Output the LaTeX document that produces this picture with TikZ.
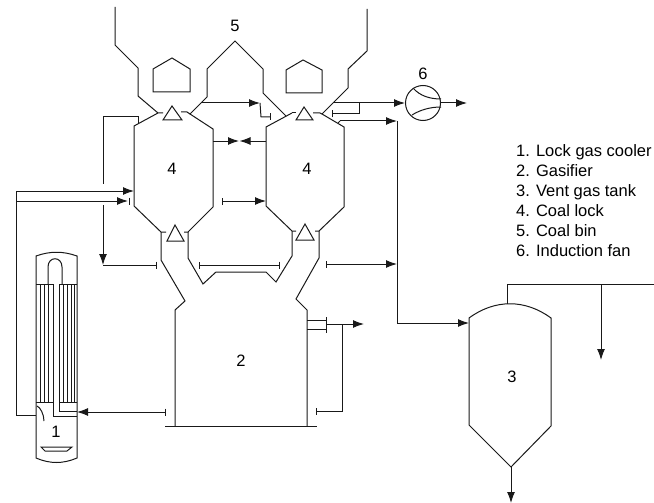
\documentclass[tikz,border=0pt]{standalone}
\usepackage{fontspec}
\setmainfont{Liberation Sans}
\usetikzlibrary{arrows.meta}
\tikzset{
  pipe/.style={line width=1pt,line join=miter,draw=black!90},
  flow/.style={pipe,-{Latex[length=11pt,width=8pt]}},
  barflow/.style={pipe,{Bar[width=7pt,length=1pt]}-{Latex[length=11pt,width=8pt]}},
  barend/.style={pipe,-{Bar[width=7pt,length=1pt]}},
  barboth/.style={pipe,{Bar[width=7pt,length=1pt]}-{Bar[width=7pt,length=1pt]}},
  thin tube/.style={line width=0.8pt,draw=black!90},
  lbl/.style={inner sep=0pt,font=\fontsize{16.5}{20}\selectfont},
  legend/.style={inner sep=0pt,anchor=base west,font=\fontsize{16.5}{20}\selectfont}
}
\begin{document}
\begin{tikzpicture}[x=1pt,y=-1pt]
\useasboundingbox (0,0) rectangle (654,503);
% coal bins
\draw[pipe] (115,7)--(115,45)--(138,68)--(138,96)--(158,113)--(163,113);
\draw[pipe] (181,112)--(187,112)--(190,114)--(207,97)--(207,69)--(235,41)--(263,69)--(263,93)--(286,116);
\draw[pipe] (292,113)--(296,113);
\draw[pipe] (313,113)--(320,113)--(322,114)--(348,88)--(348,69)--(367,51)--(367,9);
\draw[pipe] (153,69)--(172,58)--(190,69)--(190,92)--(153,92)--cycle;
\draw[pipe] (286,70)--(303,60)--(322,70)--(322,93)--(286,93)--cycle;
% upper valves
\draw[pipe] (172,106)--(163,120)--(182,120)--cycle;
\draw[pipe] (304,107)--(296,120)--(313,120)--cycle;
% coal locks
\draw[pipe] (158,113)--(134,126)--(134,206)--(161,232)--(166,232);
\draw[pipe] (190,114)--(213,129)--(213,207)--(188,232)--(184,232);
\draw[pipe] (292,113)--(266,127)--(266,206)--(292,231)--(296,231);
\draw[pipe] (322,114)--(344,127)--(344,207)--(319,231)--(315,231);
\draw[pipe] (175,225)--(167,241)--(184,241)--cycle;
\draw[pipe] (305,224)--(296,240)--(314,240)--cycle;
% gasifier
\draw[pipe] (161,232)--(161,260)--(185,301)--(175,310)--(175,426);
\draw[pipe] (319,231)--(319,258)--(296,299)--(307,310)--(307,426);
\draw[pipe] (188,232)--(188,258)--(203,284)--(216,272)--(266,272)--(276,282)--(292,256)--(292,231);
\draw[pipe] (165,426)--(317,426);
% cooler
\draw[pipe] (36,402)--(36,256) .. controls (50,251) and (63,251) .. (77,256)--(77,402);
\draw[pipe] (36,402)--(36,458) .. controls (50,464) and (63,464) .. (77,458)--(77,402);
\draw[pipe] (48,284)--(48,267) .. controls (48,256) and (62,256) .. (62,267)--(62,284);
\draw[pipe] (36,284)--(53,284)--(53,402)--(36,402);
\draw[pipe] (77,284)--(59,284)--(59,402)--(77,402);
\foreach \tx in {40,44,48,63,67,71,74}{\draw[thin tube] (\tx,284)--(\tx,402);}
\draw[pipe] (53,402)--(53,416)--(77,416);
\draw[pipe] (59,402)--(59,411)--(77,411);
\draw[pipe] (37,406) .. controls (40,407) and (44,414) .. (44,421);
\draw[pipe] (41,447)--(72,447)--(67,451)--(45,451)--cycle;
% vent tank
\draw[pipe] (469,318) .. controls (495,299) and (525,299) .. (551,318)--(551,426)--(511,467)--(469,425)--cycle;
% fan
\node[draw=black!90,line width=1pt,circle,minimum size=35pt,inner sep=0pt] (fan) at (423,103) {};
\draw[pipe] (413,88) .. controls (420,96) and (430,99) .. (441,99);
\draw[pipe] (412,115) .. controls (420,110) and (430,107) .. (441,107);
% connectors
\coordinate (b1) at (201,103);
\draw[flow] (b1)--(260,103);
\draw[barend] (260,103)--(261,117)--(271,117);
\draw[flow] (213,141)--(239,141);
\draw[flow] (266,141)--(239.5,141);
\draw[pipe] (138,123)--(138,117)--(103,117)--(103,184);
\draw[flow] (103,205)--(103,265);
\draw[barend] (103,265)--(157,265);
\draw[flow] (16,191)--(134,191);
\draw[flow] (16,201)--(128,201);
\draw[pipe] (129,197.5)--(129,204.5);
\draw[pipe] (16,191)--(16,415)--(36,415);
\draw[barflow] (166,412)--(77,412);
\draw[barflow] (222,201)--(266,201);
\draw[barboth] (199,265)--(280,265);
\draw[barflow] (326,264)--(397,264);
\draw[pipe] (338,123)--(340,121);
\draw[flow] (340,121)--(397,121);
\draw[pipe] (397,121)--(397,323);
\draw[flow] (397,323)--(469,323);
\draw[flow] (333,103)--(fan.west);
\draw[barend] (359,103)--(359,114)--(332,114);
\draw[flow] (fan.east)--(467,103);
% gasifier outlet
\draw[pipe] (307,320)--(326,320);
\draw[pipe] (307,329)--(326,329);
\draw[pipe] (326,317)--(326,333);
\draw[flow] (326,324)--(364,324);
\draw[barend] (342,324)--(342,411)--(316,411);
% tank connections
\draw[pipe] (507,304)--(507,284)--(654,284);
\draw[flow] (601,284)--(601,360);
\draw[flow] (511,467)--(511,503);
% labels
\node[lbl] (n5) at (235,26) {5};
\node[lbl] (n6) at (423,74) {6};
\node[lbl] (n4a) at (172,169) {4};
\node[lbl] (n4b) at (307,169) {4};
\node[lbl] (n2) at (241,361) {2};
\node[lbl] (n1) at (56,432) {1};
\node[lbl] (n3) at (512,377) {3};
\node[legend] (l1) at (516,156) {1. Lock gas cooler};
\node[legend] (l2) at (516,176) {2. Gasifier};
\node[legend] (l3) at (516,196) {3. Vent gas tank};
\node[legend] (l4) at (516,216) {4. Coal lock};
\node[legend] (l5) at (516,236) {5. Coal bin};
\node[legend] (l6) at (516,256) {6. Induction fan};
\end{tikzpicture}
\end{document}
